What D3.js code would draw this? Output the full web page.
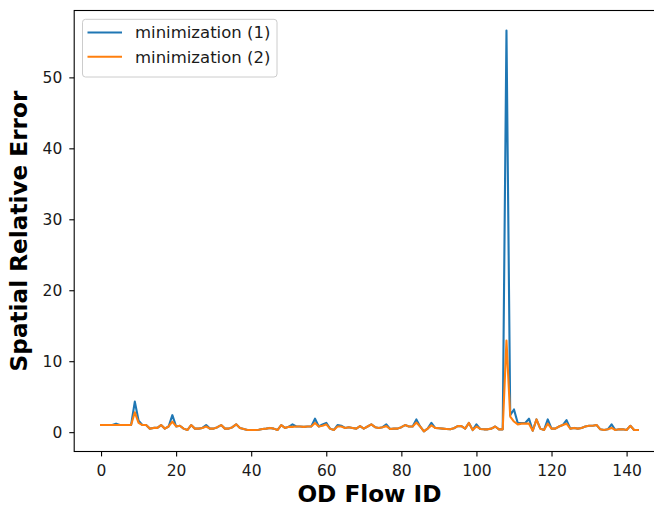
<!DOCTYPE html>
<html>
<head>
<meta charset="utf-8">
<script src="https://cdn.jsdelivr.net/npm/d3@7/dist/d3.min.js"></script>
<style>
  html, body { margin: 0; padding: 0; background: #fff; overflow: hidden; }
  svg { display: block; font-family: "DejaVu Sans", sans-serif; }
</style>
</head>
<body>
<svg id="chart" width="654" height="507"></svg>
<script>
// Spatial relative error per OD flow for the two minimization runs
const flowIds = d3.range(144);

const minimization1 = [
  1.0,1.0,1.0,1.0,1.2,1.0,1.0,1.0,1.0,4.3,
  1.6,1.0,1.0,0.5,0.6,0.6,1.0,0.5,0.8,2.4,
  0.8,0.9,0.5,0.3,1.0,0.5,0.5,0.6,1.0,0.5,
  0.5,0.7,1.0,0.5,0.5,0.7,1.1,0.6,0.45,0.3,
  0.3,0.3,0.35,0.45,0.5,0.6,0.5,0.3,1.0,0.6,
  0.75,1.1,0.8,0.8,0.75,0.8,0.8,1.9,0.8,1.1,
  1.3,0.5,0.3,1.0,0.9,0.6,0.7,0.6,0.5,0.85,
  0.5,0.8,1.1,0.7,0.6,0.7,1.1,0.45,0.5,0.5,
  0.7,1.0,0.8,0.8,1.8,0.8,0.1,0.5,1.3,0.6,
  0.55,0.5,0.45,0.4,0.55,0.85,0.85,0.5,1.3,0.3,
  1.1,0.45,0.4,0.4,0.5,0.8,0.4,0.4,56.6,2.4,
  3.2,1.3,1.3,1.3,1.9,0.2,1.8,0.5,0.3,1.8,
  0.5,0.5,0.8,1.0,1.7,0.5,0.6,0.5,0.6,0.8,
  0.9,0.9,1.0,0.4,0.3,0.4,1.1,0.3,0.4,0.4,
  0.3,0.9,0.3,0.3
];

const minimization2 = [
  1.0,1.0,1.0,1.0,1.0,1.0,1.0,1.0,1.0,2.8,
  1.3,1.0,1.0,0.5,0.6,0.6,1.0,0.5,0.8,1.5,
  0.8,0.9,0.5,0.3,1.0,0.5,0.5,0.6,0.8,0.5,
  0.5,0.7,1.0,0.5,0.5,0.7,1.1,0.6,0.45,0.3,
  0.3,0.3,0.35,0.45,0.5,0.6,0.5,0.3,1.0,0.6,
  0.75,0.75,0.8,0.8,0.75,0.8,0.8,1.3,0.8,0.9,
  1.1,0.5,0.3,0.8,0.8,0.6,0.7,0.6,0.5,0.85,
  0.5,0.8,1.1,0.7,0.6,0.7,0.85,0.45,0.5,0.5,
  0.7,1.0,0.8,0.8,1.35,0.8,0.1,0.5,0.95,0.6,
  0.55,0.5,0.45,0.4,0.55,0.85,0.85,0.5,1.3,0.3,
  0.8,0.45,0.4,0.4,0.5,0.8,0.4,0.4,12.9,2.2,
  1.5,1.1,1.2,1.2,1.2,0.2,1.8,0.5,0.3,1.2,
  0.5,0.5,0.8,1.0,1.2,0.5,0.6,0.5,0.6,0.8,
  0.9,0.9,1.0,0.4,0.3,0.4,0.6,0.3,0.4,0.4,
  0.3,0.9,0.3,0.3
];

const seriesNames = ["minimization (1)", "minimization (2)"];
const seriesColors = ["#1f77b4", "#ff7f0e"];
const xTickValues = [0, 20, 40, 60, 80, 100, 120, 140];
const yTickValues = [0, 10, 20, 30, 40, 50];

const svg = d3.select("#chart");

// Axes box (right side runs past the visible canvas)
const box = { left: 74.2, right: 664.7, top: 10.5, bottom: 451.5 };

// 5% padding around the data, matplotlib-style
const xMin = d3.min(flowIds), xMax = d3.max(flowIds);
const xPad = (xMax - xMin) * 0.05;
const allVals = minimization1.concat(minimization2);
const yMin = d3.min(allVals), yMax = d3.max(allVals);
const yPad = (yMax - yMin) * 0.05;

const x = d3.scaleLinear().domain([xMin - xPad, xMax + xPad]).range([box.left, box.right]);
const y = d3.scaleLinear().domain([yMin - yPad, yMax + yPad]).range([box.bottom, box.top]);

// Lines
const line = d3.line().x((d, i) => x(flowIds[i])).y(d => y(d));
[minimization1, minimization2].forEach((vals, k) => {
  svg.append("path")
    .datum(vals)
    .attr("d", line)
    .attr("fill", "none")
    .attr("stroke", seriesColors[k])
    .attr("stroke-width", 2.1)
    .attr("stroke-linejoin", "round")
    .attr("stroke-linecap", "square");
});

// Axes
const xAxis = d3.axisBottom(x).tickValues(xTickValues).tickSize(4.9).tickPadding(8.6).tickSizeOuter(0);
const yAxis = d3.axisLeft(y).tickValues(yTickValues).tickSize(4.9).tickPadding(7).tickSizeOuter(0);

const gx = svg.append("g").attr("transform", `translate(0,${box.bottom})`).call(xAxis);
const gy = svg.append("g").attr("transform", `translate(${box.left},0)`).call(yAxis);
[gx, gy].forEach(g => {
  g.select(".domain").remove();
  g.selectAll(".tick line").attr("stroke", "#000").attr("stroke-width", 1.1);
  g.selectAll(".tick text")
    .attr("fill", "#1a1a1a")
    .style("font-family", "DejaVu Sans, sans-serif")
    .style("font-size", "15.5px");
});

// Frame
svg.append("rect")
  .attr("x", box.left).attr("y", box.top)
  .attr("width", box.right - box.left).attr("height", box.bottom - box.top)
  .attr("fill", "none").attr("stroke", "#000").attr("stroke-width", 1.1);

// Axis titles
svg.append("text")
  .attr("x", (box.left + box.right) / 2)
  .attr("y", 501.5)
  .attr("text-anchor", "middle")
  .style("font-size", "23.2px").style("font-weight", "bold")
  .text("OD Flow ID");

svg.append("text")
  .attr("transform", `translate(27,${(box.top + box.bottom) / 2}) rotate(-90)`)
  .attr("text-anchor", "middle")
  .style("font-size", "23.2px").style("font-weight", "bold")
  .text("Spatial Relative Error");

// Legend
const legend = svg.append("g").attr("transform", "translate(82.5,19.3)");
legend.append("rect")
  .attr("width", 194.5).attr("height", 57.7)
  .attr("rx", 3).attr("ry", 3)
  .attr("fill", "#fff").attr("fill-opacity", 0.8)
  .attr("stroke", "#ccc").attr("stroke-width", 1);
seriesNames.forEach((name, k) => {
  const cy = 13.2 + k * 24.3;
  legend.append("line")
    .attr("x1", 5).attr("x2", 39.5).attr("y1", cy).attr("y2", cy)
    .attr("stroke", seriesColors[k]).attr("stroke-width", 2.1);
  legend.append("text")
    .attr("x", 52.5).attr("y", cy + 6)
    .style("font-size", "16.5px")
    .attr("fill", "#1a1a1a")
    .text(name);
});
</script>
</body>
</html>
